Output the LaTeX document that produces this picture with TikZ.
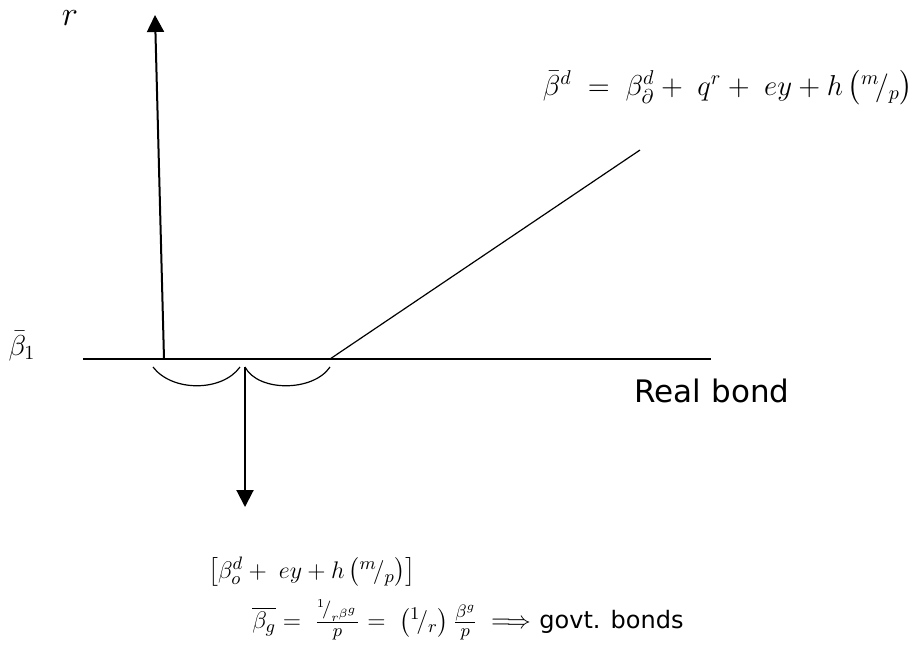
\documentclass[tikz,border=0pt]{standalone}
\usepackage{amsmath}
\usepackage{fontspec}
\setsansfont{DejaVu Sans}
\usetikzlibrary{arrows.meta}
\begin{document}
\begin{tikzpicture}[
x=0.5pt,y=-0.5pt,
axis/.style={line width=1pt},
pointer/.style={line width=1pt,-{Triangle[width=8.5pt,length=8.5pt]}},
curve/.style={line width=0.6pt},
brace/.style={line width=0.6pt},
every node/.style={inner sep=0pt}
]
\useasboundingbox (0,0) rectangle (913,655);
% axes
\coordinate (foot) at (164,359);
\coordinate (rtop) at (155,15);
\coordinate (bleft) at (83,359);
\coordinate (bmid) at (619,359);
\coordinate (bright) at (711,359);
\coordinate (kink) at (330,359);
\coordinate (dtop) at (640,150);
\coordinate (split) at (245,367);
\coordinate (drop) at (245,507);
\draw[pointer] (foot) -- (rtop);
\draw[axis] (bleft) -- (bmid);
\draw[curve] (bmid) -- (bright);
\draw[curve] (kink) -- (dtop);
% braces under the axis
\draw[brace] (153,367) .. controls (172,392) and (222,392) .. (240,367);
\draw[brace] (split) .. controls (258,392) and (313,392) .. (330,367);
\draw[pointer] (split) -- (drop);
% labels
\node (rlab) at (70,18) {\fontsize{16}{18}\selectfont$r$};
\node (blab) at (22,346) {\fontsize{14}{16}\selectfont$\bar{\beta}_1$};
\node (demand) at (728,88) {\fontsize{14.5}{17}\selectfont$\bar{\beta}^d\;=\;\beta^d_\partial+\;q^r+\;ey+h\,\bigl({}^{m}\!/_{p}\bigr)$};
\node (real) at (712,391) {\fontsize{15.5}{18}\selectfont\sffamily Real bond};
\node (bundle) at (312,572) {\fontsize{13}{15}\selectfont$\bigl[\beta^d_o+\;ey+h\,\bigl({}^{m}\!/_{p}\bigr)\bigr]$};
\node (govt) at (468,620) {\fontsize{13}{15}\selectfont$\overline{\beta_g}=\;\frac{{}^{1}\!/_{r^{\beta^g}}}{p}=\;\bigl({}^{1}\!/_{r}\bigr)\,\frac{\beta^g}{p}\;\Longrightarrow$ \fontsize{12}{14}\selectfont\sffamily govt. bonds};
\end{tikzpicture}
\end{document}
